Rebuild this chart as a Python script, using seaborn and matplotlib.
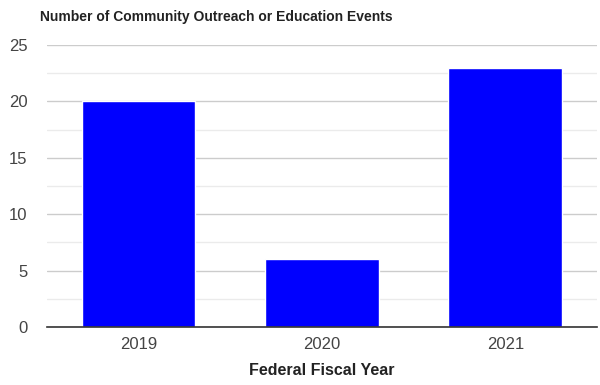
import matplotlib
matplotlib.use("Agg")
import matplotlib.pyplot as plt
import seaborn as sns
import pandas as pd
from matplotlib.ticker import MultipleLocator

years = ["2019", "2020", "2021"]
events = [20, 6, 23]
yticks = [0, 5, 10, 15, 20, 25]

sns.set_theme(style="white")
plt.rcParams['font.family'] = ['Liberation Sans', 'DejaVu Sans']

df = pd.DataFrame({"year": years, "events": events})

fig = plt.figure(figsize=(6, 3.85), dpi=100)
ax = fig.add_axes([0.078, 0.1506, 0.917, 0.7324])
sns.barplot(data=df, x="year", y="events", color="#0000ff", width=0.62,
            saturation=1, ax=ax, zorder=3)
ax.set_ylim(0, 25)
ax.set_xlim(-0.5, 2.5)
ax.set_yticks(yticks)
ax.yaxis.set_minor_locator(MultipleLocator(2.5))
ax.grid(axis="y", which="major", color="#cccccc", linewidth=1, zorder=0)
ax.grid(axis="y", which="minor", color="#ebebeb", linewidth=1, zorder=0)
ax.set_axisbelow(True)
for s in ["left", "right", "top"]:
    ax.spines[s].set_visible(False)
ax.spines["bottom"].set_color("#333333")
ax.spines["bottom"].set_linewidth(1.2)
ax.spines["bottom"].set_zorder(4)
ax.tick_params(axis="both", which="both", length=0, labelsize=12, colors="#444444")
ax.tick_params(axis="x", pad=7)
ax.tick_params(axis="y", pad=14)
ax.set_ylabel("")
ax.set_xlabel("Federal Fiscal Year", fontsize=11.5, fontweight="bold", color="#222222", labelpad=8)
fig.text(0.067, 0.957, "Number of Community Outreach or Education Events",
         fontsize=10, fontweight="bold", color="#222222", ha="left", va="center")
fig.savefig("out.png", dpi=100)
